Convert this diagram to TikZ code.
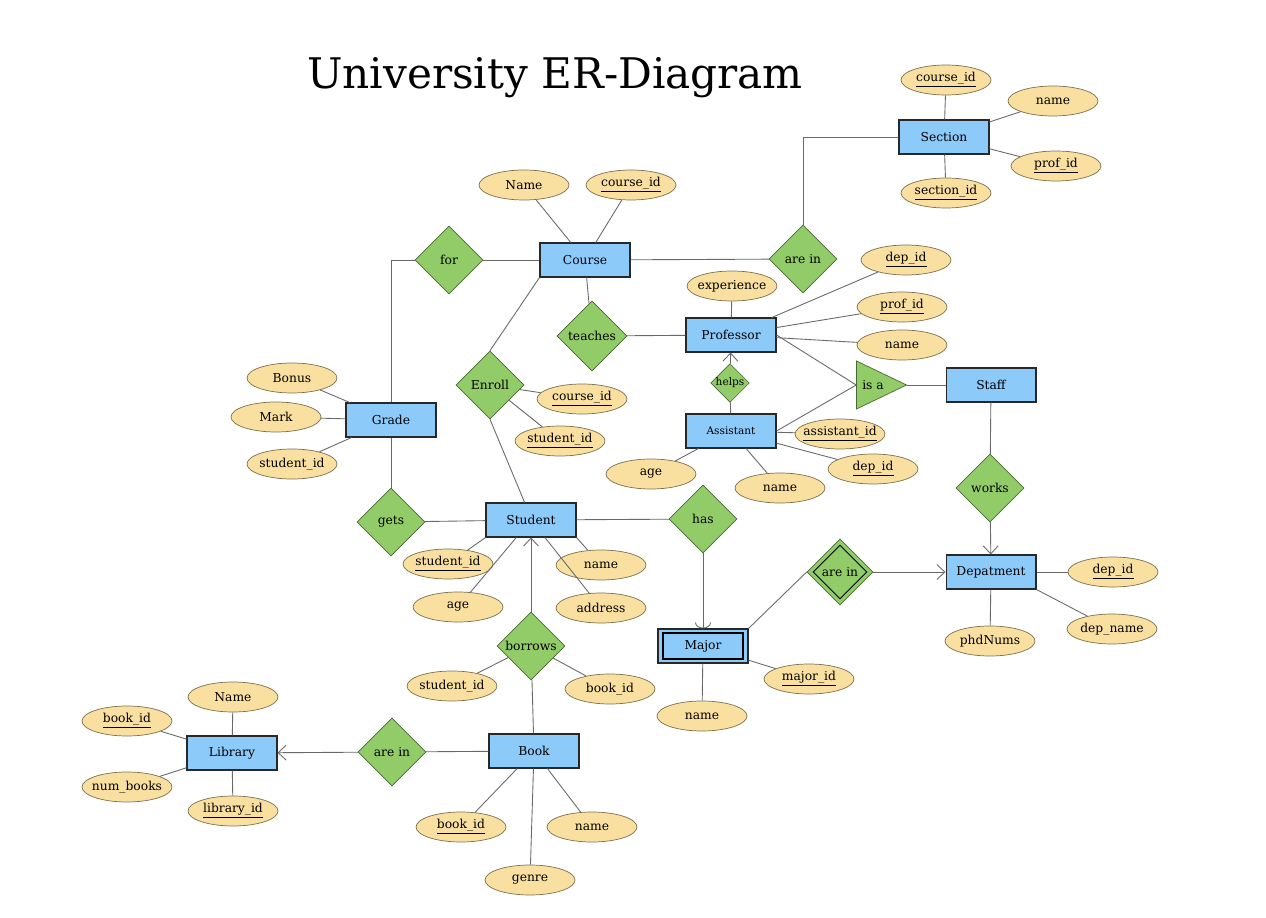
\documentclass[tikz,border=0pt]{standalone}
\usepackage{fontspec}
\setmainfont{DejaVu Serif}
\usepackage{tikz}
\usetikzlibrary{positioning}
\usetikzlibrary{shapes}
\usetikzlibrary{arrows.meta}

\definecolor{entfill}{RGB}{140,202,250}
\definecolor{entline}{RGB}{40,40,40}
\definecolor{attfill}{RGB}{250,224,160}
\definecolor{attline}{RGB}{125,112,80}
\definecolor{relfill}{RGB}{146,204,104}
\definecolor{relline}{RGB}{75,105,55}
\definecolor{linecol}{RGB}{105,105,105}

\tikzset{
    every picture/.append style={
        >={Straight Barb[length=1.6mm,width=3mm]}
    }
}
\tikzset{
    entity/.style={shape=rectangle,draw=entline,fill=entfill,line width=0.6pt,
        minimum width=1.8cm,minimum height=0.68cm,inner sep=0pt,font=\fontsize{7}{8}\selectfont},
    attrib/.style={shape=ellipse,draw=attline,fill=attfill,line width=0.4pt,
        minimum width=1.8cm,minimum height=0.6cm,inner xsep=-3pt,inner ysep=0pt,font=\fontsize{7}{8}\selectfont},
    relation/.style={shape=diamond,draw=relline,fill=relfill,line width=0.4pt,
        minimum size=1.36cm,inner sep=0pt,font=\fontsize{7}{8}\selectfont},
    isarel/.style={shape=isosceles triangle,isosceles triangle stretches,draw=relline,fill=relfill,
        line width=0.4pt,minimum width=0.96cm,minimum height=1cm,inner sep=0pt,font=\fontsize{7}{8}\selectfont},
    every edge/.style={draw=linecol,line width=0.5pt},
}

\begin{document}
\begin{tikzpicture}[x=0.02cm,y=-0.02cm]
		\useasboundingbox (0,0) rectangle (1266,918);
		\node[font=\fontsize{24}{28}\selectfont] (title) at (555,78) {University ER-Diagram};
		
		% entities
		\node[entity] (Section) at (944,137) {Section};
		\node[entity] (Course) at (585,260) {Course};
		\node[entity] (Professor) at (731,335) {Professor};
		\node[entity,font=\fontsize{6}{7}\selectfont] (Assistant) at (731,431) {Assistant};
		\node[entity] (Staff) at (991,385) {Staff};
		\node[entity] (Grade) at (391,420) {Grade};
		\node[entity] (Student) at (531,520) {Student};
		\node[entity] (Depatment) at (991,572) {Depatment};
		\node[entity] (Major) at (703,646) {Major};
		\node[shape=rectangle,draw=black,line width=0.6pt,minimum width=1.6cm,minimum height=0.52cm] (MajorIn) at (Major) {};
		\node[entity] (Library) at (232,753) {Library};
		\node[entity] (Book) at (534,751) {Book};
		
		% relations
		\node[relation] (areinA) at (803,259) {are in};
		\node[relation] (for) at (449,260) {for};
		\node[relation,minimum size=1.4cm] (teaches) at (592,336) {teaches};
		\node[relation] (Enroll) at (490,385) {Enroll};
		\node[relation,minimum size=0.76cm,font=\fontsize{6}{7}\selectfont] (helps) at (730,383) {helps};
		\node[isarel] (isa) at (873,385) {is a};
		\node[relation] (works) at (990,488) {works};
		\node[relation] (gets) at (391,522) {gets};
		\node[relation] (has) at (703,519) {has};
		\node[relation,minimum size=1.32cm] (areinB) at (840,572) {are in};
		\node[shape=diamond,draw=black,line width=0.5pt,minimum size=1.08cm,inner sep=0pt] (areinBin) at (areinB) {};
		\node[relation] (borrows) at (531,646) {borrows};
		\node[relation] (areinC) at (392,752) {are in};
		
		% attributes
		\node[attrib] (SecCid) at (946,80) {\underline{course\_id}};
		\node[attrib] (SecName) at (1053,101) {name};
		\node[attrib] (SecPid) at (1056,166) {\underline{prof\_id}};
		\node[attrib] (SecSid) at (946,193) {\underline{section\_id}};
		\node[attrib] (CouName) at (524,185) {Name};
		\node[attrib] (CouCid) at (631,185) {\underline{course\_id}};
		\node[attrib] (ProfExp) at (732,286) {experience};
		\node[attrib] (ProfDid) at (906,260) {\underline{dep\_id}};
		\node[attrib] (ProfPid) at (902,307) {\underline{prof\_id}};
		\node[attrib] (ProfName) at (902,345) {name};
		\node[attrib] (AssAid) at (840,434) {\underline{assistant\_id}};
		\node[attrib] (AssDid) at (873,469) {\underline{dep\_id}};
		\node[attrib] (AssName) at (780,488) {name};
		\node[attrib] (AssAge) at (651,474) {age};
		\node[attrib] (GraBonus) at (292,378) {Bonus};
		\node[attrib] (GraMark) at (276,417) {Mark};
		\node[attrib] (GraSid) at (292,464) {student\_id};
		\node[attrib] (EnrCid) at (582,399) {\underline{course\_id}};
		\node[attrib] (EnrSid) at (560,441) {\underline{student\_id}};
		\node[attrib] (StuSid) at (448,564) {\underline{student\_id}};
		\node[attrib] (StuName) at (601,565) {name};
		\node[attrib] (StuAge) at (458,607) {age};
		\node[attrib] (StuAddr) at (601,608) {address};
		\node[attrib] (BorSid) at (452,686) {student\_id};
		\node[attrib] (BorBid) at (610,689) {book\_id};
		\node[attrib] (MajMid) at (809,679) {\underline{major\_id}};
		\node[attrib] (MajName) at (702,716) {name};
		\node[attrib] (DepDid) at (1113,572) {\underline{dep\_id}};
		\node[attrib] (DepName) at (1112,629) {dep\_name};
		\node[attrib] (DepPhd) at (990,641) {phdNums};
		\node[attrib] (LibName) at (233,697) {Name};
		\node[attrib] (LibBid) at (127,721) {\underline{book\_id}};
		\node[attrib] (LibNum) at (127,787) {num\_books};
		\node[attrib] (LibLid) at (233,811) {\underline{library\_id}};
		\node[attrib] (BooBid) at (461,827) {\underline{book\_id}};
		\node[attrib] (BooName) at (592,827) {name};
		\node[attrib] (BooGenre) at (530,880) {genre};
		
		% relationships
		\draw [linecol,line width=0.5pt] (Section.west) -| (areinA.north);
		\path [-] (Course) edge (areinA);
		\path [-] (Course) edge (for);
		\draw [linecol,line width=0.5pt] (for.west) -| (Grade.north);
		\path [-] (Course) edge (teaches);
		\path [-] (teaches) edge (Professor);
		\path [-] (Course.south west) edge (Enroll.north);
		\path [-] (Enroll.south) edge (Student.110);
		\path [->] (helps) edge (Professor);
		\path [-] (helps) edge (Assistant);
		\path [-] (Professor.east) edge (isa.lower side);
		\path [-] (Assistant.east) edge (isa.lower side);
		\path [-] (isa.apex) edge (Staff);
		\path [-] (Staff) edge (works);
		\path [->] (works) edge (Depatment);
		\path [->] (areinB) edge (Depatment);
		\path [-] (Major.north east) edge (areinB.west);
		\path [-{Arc Barb[length=1.2mm,width=3.2mm]}] (has) edge (Major);
		\path [-] (Student) edge (has);
		\path [-] (Grade) edge (gets);
		\path [-] (gets) edge (Student);
		\path [->] (borrows.north) edge (Student.south);
		\path [-] (borrows) edge (Book);
		\path [-] (Book) edge (areinC);
		\path [->] (areinC) edge (Library);
		
		% attribute links
		\path [-] (Section) edge (SecCid);
		\path [-] (Section) edge (SecName);
		\path [-] (Section) edge (SecPid);
		\path [-] (Section) edge (SecSid);
		\path [-] (Course) edge (CouName);
		\path [-] (Course) edge (CouCid);
		\path [-] (Professor) edge (ProfExp);
		\path [-] (Professor) edge (ProfDid);
		\path [-] (Professor) edge (ProfPid);
		\path [-] (Professor) edge (ProfName);
		\path [-] (Assistant) edge (AssAid);
		\path [-] (Assistant) edge (AssDid);
		\path [-] (Assistant) edge (AssName);
		\path [-] (Assistant) edge (AssAge);
		\path [-] (Grade) edge (GraBonus);
		\path [-] (Grade) edge (GraMark);
		\path [-] (Grade) edge (GraSid);
		\path [-] (Enroll) edge (EnrCid);
		\path [-] (Enroll) edge (EnrSid);
		\path [-] (Student.south west) edge (StuSid);
		\path [-] (Student.south east) edge (StuName);
		\path [-] (Student) edge (StuAge);
		\path [-] (Student) edge (StuAddr);
		\path [-] (borrows) edge (BorSid);
		\path [-] (borrows) edge (BorBid);
		\path [-] (Major) edge (MajMid);
		\path [-] (Major) edge (MajName);
		\path [-] (Depatment) edge (DepDid);
		\path [-] (Depatment.south east) edge (DepName);
		\path [-] (Depatment) edge (DepPhd);
		\path [-] (Library) edge (LibName);
		\path [-] (Library) edge (LibBid);
		\path [-] (Library) edge (LibNum);
		\path [-] (Library) edge (LibLid);
		\path [-] (Book) edge (BooBid);
		\path [-] (Book) edge (BooName);
		\path [-] (Book) edge (BooGenre);
		\end{tikzpicture}
\end{document}
